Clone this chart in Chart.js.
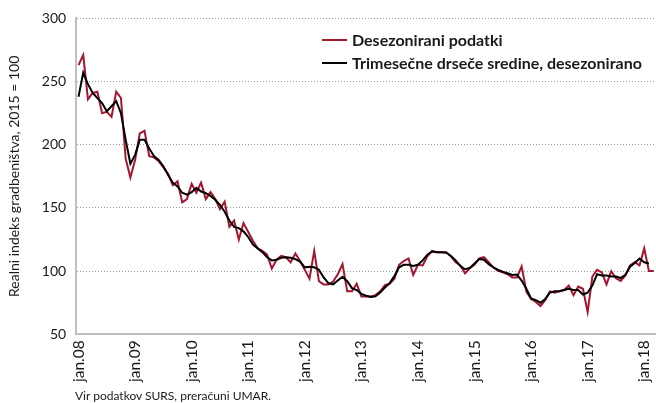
<!DOCTYPE html>
<html>
<head>
<meta charset="utf-8">
<script src="https://cdn.jsdelivr.net/npm/chart.js@4"></script>
<style>
  body { margin: 0; background: #fff; }
  #wrap { position: relative; width: 656px; height: 403px; overflow: hidden; font-family: Lato, sans-serif; color: #1a1a1a; }
  #legend { position: absolute; left: 322px; top: 28px; }
  .legend-item { display: flex; align-items: center; height: 23px; font-weight: bold; font-size: 16px; }
  .legend-line { width: 25px; height: 2px; margin-right: 5px; }
  #source { position: absolute; left: 75px; top: 388px; font-size: 12px; }
</style>
</head>
<body>
<div id="wrap">
  <canvas id="chart" width="656" height="403"></canvas>
  <div id="legend"></div>
  <div id="source">Vir podatkov SURS, preračuni UMAR.</div>
</div>
<script>
Chart.defaults.font.family = 'Lato';
Chart.defaults.color = '#1a1a1a';

const monthNames = ['jan', 'feb', 'mar', 'apr', 'maj', 'jun', 'jul', 'avg', 'sep', 'okt', 'nov', 'dec'];
const years = ['08', '09', '10', '11', '12', '13', '14', '15', '16', '17', '18'];
const seriesNames = ['Desezonirani podatki', 'Trimesečne drseče sredine, desezonirano'];
const seriesColors = ['#a3162e', '#000000'];
const yTicks = [50, 100, 150, 200, 250, 300];

// monthly values, jan.08 - mar.18
const seasonAdjusted = [
  263, 271, 236, 241, 242, 225, 226, 222, 242, 237, 189, 174,
  188, 209, 211, 191, 190, 187, 182, 177, 168, 171, 154.5, 157,
  169, 162, 170, 157, 162.5, 157, 149, 155, 135, 140, 125, 138,
  131, 124, 118, 116, 113, 102, 109, 112, 111, 107, 114, 108,
  101, 94, 116, 92, 89.5, 89.5, 91.7, 97.5, 105.5, 84, 84, 90,
  80, 80, 80, 81, 84, 89, 90, 94, 105, 108, 110, 97,
  105, 104.5, 111.7, 116, 115, 115, 115, 111.7, 107, 104.5, 98.3, 102.3,
  105, 110, 111, 107, 103, 100.3, 99, 97.5, 95, 95, 103.7, 83.7,
  78, 75.6, 72.4, 77, 84, 83, 84, 85, 88.5, 81, 87.7, 86,
  67.6, 95.7, 101, 99, 89.5, 100, 94.3, 92.2, 96.5, 104.5, 107, 104.5,
  118, 100, 100
];

const movingAverage = [
  238, 257, 248, 241, 237, 233, 226.5, 230.5, 234.5, 225, 204, 185,
  192, 204, 204, 197, 191, 188, 183, 176, 170, 167, 162, 160.5,
  162.5, 166, 163, 161.7, 159.5, 156.5, 152.5, 147, 140, 135, 134, 131.5,
  127, 121, 118, 115, 111, 108.5, 109, 110.5, 111, 110.5, 109.5, 107.5,
  103, 103.5, 103, 101, 95, 90.5, 89.5, 92.5, 95.5, 92, 86.5, 85,
  82, 80.5, 79.6, 80, 83, 87, 90.5, 96, 103, 105, 105, 104,
  105, 108.5, 113, 115.5, 115, 115, 114.5, 112, 108.5, 104, 101.5, 102.5,
  106, 109.5, 109, 105.5, 103, 101, 99.5, 98.3, 97, 97.3, 92.5, 86,
  78.3, 77, 75, 78, 83, 84, 84, 85, 86, 85, 85, 81.5,
  83, 88.5, 97.5, 96.5, 96.5, 95.7, 95.7, 94.5, 97, 103.5, 106.5, 110,
  107, 106, null
];

const labels = [];
years.forEach((y) => {
  monthNames.forEach((m) => labels.push(m + '.' + y));
});
labels.length = seasonAdjusted.length;

// legend as html, top right inside the plot
const legendEl = document.getElementById('legend');
seriesNames.forEach((name, i) => {
  const item = document.createElement('div');
  item.className = 'legend-item';
  item.innerHTML = `<span class="legend-line" style="background:${seriesColors[i]}"></span><span>${name}</span>`;
  legendEl.appendChild(item);
});

function lineDataset (label, data, color, order) {
  return {
    label: label,
    data: data,
    borderColor: color,
    borderWidth: 2,
    pointRadius: 0,
    tension: 0,
    order: order
  };
}

const config = {
  type: 'line',
  data: {
    labels: labels,
    datasets: [
      lineDataset(seriesNames[0], seasonAdjusted, seriesColors[0], 2),
      lineDataset(seriesNames[1], movingAverage, seriesColors[1], 1)
    ]
  },
  options: {
    responsive: false,
    animation: false,
    layout: { padding: { top: 17, right: 0, bottom: 15, left: 6 } },
    plugins: {
      legend: { display: false },
      tooltip: { enabled: false }
    },
    scales: {
      x: {
        type: 'category',
        offset: true,
        grid: { display: false, drawTicks: false },
        border: { color: '#c0c0c0', width: 2 },
        ticks: {
          autoSkip: false,
          maxRotation: 90,
          minRotation: 90,
          padding: 6,
          font: { size: 15.5 },
          callback: function (value, index) {
            return index % 12 === 0 ? this.getLabelForValue(value) : null;
          }
        },
        // let the plot run to the right edge like the original
        afterFit: (scale) => {
          scale.paddingRight = 0;
        }
      },
      y: {
        min: 50,
        max: 300,
        afterBuildTicks: (axis) => {
          axis.ticks = yTicks.map((v) => ({ value: v }));
        },
        grid: { color: '#9a9a9a', drawTicks: false, lineWidth: 1 },
        border: { color: '#c0c0c0', width: 2, dash: [1, 2] },
        ticks: { padding: 10, font: { size: 14 } },
        title: {
          display: true,
          text: 'Realni indeks gradbeništva, 2015 = 100',
          font: { size: 14 },
          padding: { top: 0, bottom: 9 }
        }
      }
    }
  }
};

const chart = new Chart(document.getElementById('chart').getContext('2d'), config);
</script>
</body>
</html>
